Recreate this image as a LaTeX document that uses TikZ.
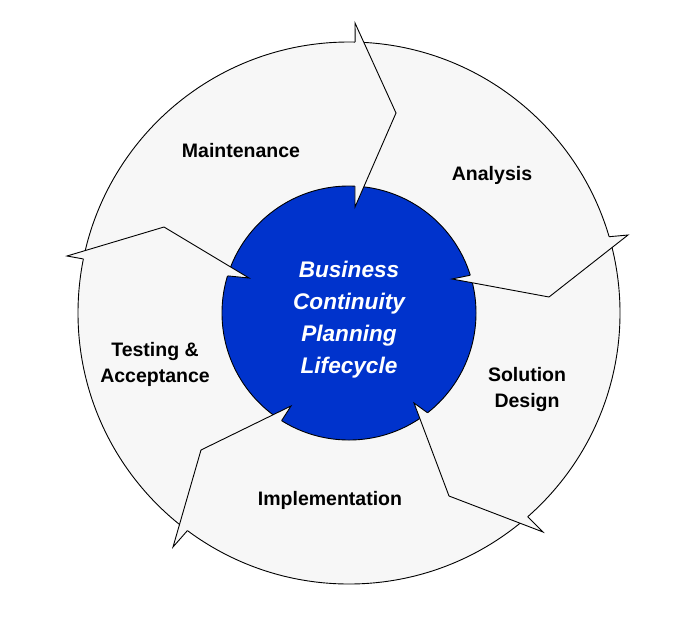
\documentclass[tikz,border=0pt]{standalone}
\usepackage{fontspec}
\setmainfont{Liberation Sans}
\usetikzlibrary{calc}
\definecolor{ringgray}{RGB}{247,247,247}
\definecolor{bcpblue}{RGB}{0,51,204}
\begin{document}
\begin{tikzpicture}[x=1pt,y=-1pt,
  outline/.style={draw=black, line width=0.9pt, line join=miter},
  lbl/.style={font=\fontsize{19.5}{26}\selectfont\bfseries, align=center, text=black, inner sep=0pt},
  ctr/.style={font=\fontsize{22.6}{32}\selectfont\bfseries\itshape, align=center, text=white, inner sep=0pt}]
\useasboundingbox (0,0) rectangle (692,616);
\coordinate (C) at (349,313);
% outer ring and inner disc
\path[outline, fill=ringgray] (C) circle (271pt);
\path[outline, fill=bcpblue] (C) circle (127pt);
% boundary 1 (top)
\coordinate (ob1) at ($(C)+(-88.7:271)$);
\coordinate (ot1) at (355,23);
\coordinate (pt1) at (396,113);
\coordinate (it1) at (355,207);
\coordinate (ib1) at ($(C)+(-87.3:127)$);
% boundary 2 (right)
\coordinate (ob2) at ($(C)+(-16.35:271)$);
\coordinate (ot2) at (628,235);
\coordinate (pt2) at (549,297);
\coordinate (it2) at (452,279);
\coordinate (ib2) at ($(C)+(-17.3:127)$);
% boundary 3 (lower right)
\coordinate (ob3) at ($(C)+(48.75:271)$);
\coordinate (ot3) at (543,532);
\coordinate (pt3) at (449,496);
\coordinate (it3) at (414,403);
\coordinate (ib3) at ($(C)+(51.8:127)$);
% boundary 4 (lower left)
\coordinate (ob4) at ($(C)+(126.6:271)$);
\coordinate (ot4) at (173,547);
\coordinate (pt4) at (201,450);
\coordinate (it4) at (291,406);
\coordinate (ib4) at ($(C)+(122.05:127)$);
% boundary 5 (left)
\coordinate (ob5) at ($(C)+(191.5:271)$);
\coordinate (ot5) at (67,256);
\coordinate (pt5) at (164,227);
\coordinate (it5) at (249,278);
\coordinate (ib5) at ($(C)+(197:127)$);
\foreach \i in {1,...,5}{
  \fill[ringgray] (ob\i) -- (ot\i) -- (pt\i) -- (it\i) -- (ib\i) -- cycle;
  \draw[outline] (ob\i) -- (ot\i) -- (pt\i) -- (it\i) -- (ib\i);
}
% labels
\node[lbl] (maint) at (241,151) {Maintenance};
\node[lbl] (anal) at (492,175.5) {Analysis};
\node[lbl] (sol) at (527,389.5) {Solution\\Design};
\node[lbl] (impl) at (330,500.5) {Implementation};
\node[lbl] (test) at (155,364.5) {Testing \&\\Acceptance};
\node[ctr] (core) at (349,320) {Business\\Continuity\\Planning\\Lifecycle};
\end{tikzpicture}
\end{document}
